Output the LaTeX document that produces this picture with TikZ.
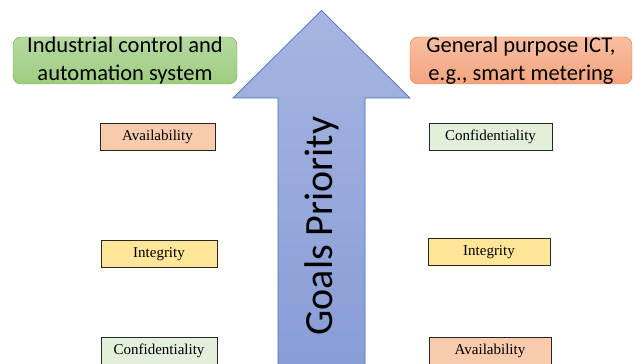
\documentclass[tikz,border=0pt]{standalone}
\usepackage{fontspec}
\setmainfont{Liberation Serif}
\newfontfamily\hdfont{Carlito}
\usepackage{tikz}
\usetikzlibrary{shapes,positioning}

\definecolor{availfill}{RGB}{248,203,173}
\definecolor{integfill}{RGB}{255,230,153}
\definecolor{conffill}{RGB}{226,239,218}
\definecolor{icsline}{RGB}{112,173,71}
\definecolor{icstop}{RGB}{182,217,162}
\definecolor{icsbot}{RGB}{158,205,128}
\definecolor{ictline}{RGB}{237,125,49}
\definecolor{icttop}{RGB}{248,190,162}
\definecolor{ictbot}{RGB}{244,164,126}
\definecolor{prioline}{RGB}{68,114,196}
\definecolor{priotop}{RGB}{166,181,225}
\definecolor{priobot}{RGB}{136,157,214}

\begin{document}
\begin{tikzpicture}[x=1pt,y=1pt,
  hdr/.style={rounded corners=8pt,minimum height=47pt,inner sep=0pt,align=center,
    font=\hdfont\fontsize{22.5}{27.5}\selectfont},
  goal/.style={draw=black!85,line width=0.8pt,minimum height=27pt,inner sep=0pt,
    font=\fontsize{15}{17}\selectfont}]
  \clip (0,0) rectangle (633,364);
  \fill[white] (0,0) rectangle (633,364);

  % priority arrow
  \draw[prioline,line width=0.7pt,top color=priotop,bottom color=priobot]
    (278,-5) -- (278,266) -- (233,266) -- (321.5,353.5) -- (410,266) -- (365,266) -- (365,-5) -- cycle;
  \node[rotate=90,inner sep=0pt,font=\hdfont\fontsize{40}{46}\selectfont] (prio) at (322,138) {Goals Priority};

  \node[hdr,draw=icsline,top color=icstop,bottom color=icsbot,minimum width=224pt] (ics) at (125,303.5) {Industrial control and\\automation system};
  \node[hdr,draw=ictline,top color=icttop,bottom color=ictbot,minimum width=222pt] (ict) at (521,303.5) {General purpose ICT,\\e.g., smart metering};

  \node[goal,fill=availfill,minimum width=115pt] (availL) at (157.5,227.5) {Availability};
  \node[goal,fill=integfill,minimum width=116pt] (integL) at (159,110) {Integrity};
  \node[goal,fill=conffill, minimum width=116pt] (confL)  at (159,13)  {Confidentiality};

  \node[goal,fill=conffill, minimum width=123pt] (confR)  at (490.5,227.5) {Confidentiality};
  \node[goal,fill=integfill,minimum width=122pt] (integR) at (489,112) {Integrity};
  \node[goal,fill=availfill,minimum width=122pt] (availR) at (490,13)  {Availability};
\end{tikzpicture}
\end{document}
